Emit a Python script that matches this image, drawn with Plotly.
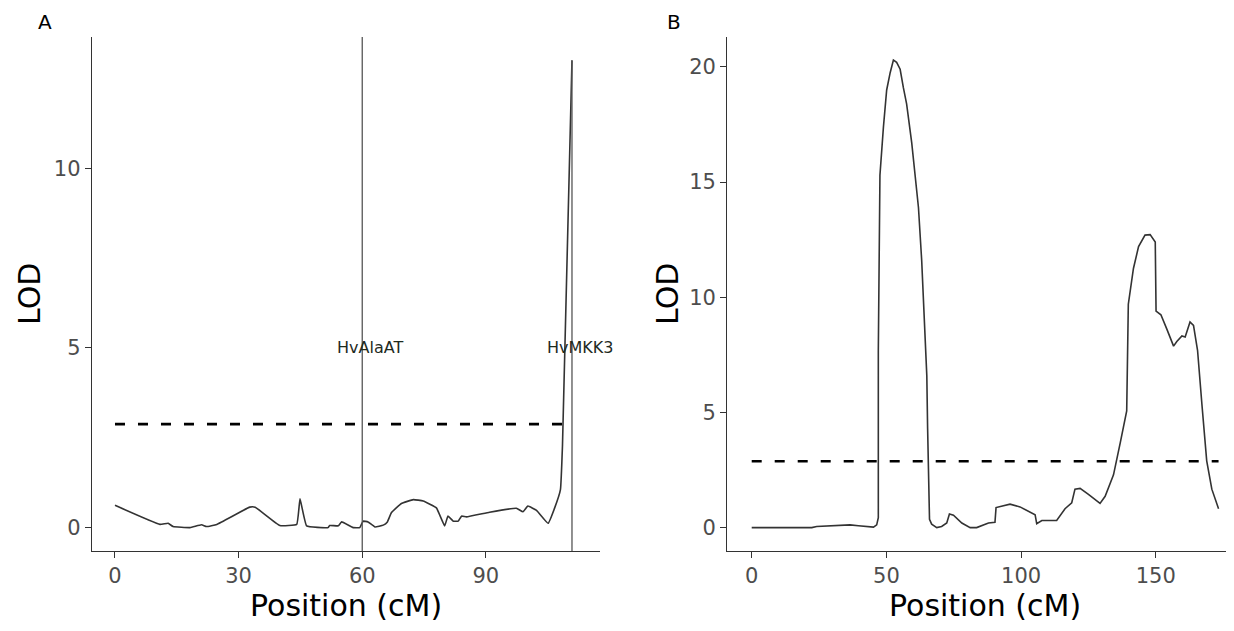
import plotly.graph_objects as go

# ---------------- Data ----------------
# Panel A: LOD profile
pos_a = [0, 10.9, 12.9, 14.1, 18.2, 21.0, 22.2, 24.7, 32.7, 34.0, 40.0, 44.1, 44.9, 46.5,
         51.7, 52.1, 54.2, 55.0, 57.8, 59.4, 60.2, 61.4, 63.1, 65.1, 66.1, 67.1, 69.5,
         72.4, 74.8, 78.0, 80.0, 80.8, 82.1, 83.3, 84.1, 85.3, 90.9, 97.4, 99.0, 100.2,
         102.3, 105.1, 106.7, 108.1, 108.6, 110.9]
lod_a = [0.62, 0.09, 0.12, 0.03, 0.0, 0.08, 0.03, 0.09, 0.57, 0.57, 0.06, 0.09, 0.80, 0.05,
         0.0, 0.06, 0.05, 0.16, 0.0, 0.0, 0.18, 0.16, 0.02, 0.07, 0.16, 0.42, 0.67,
         0.78, 0.74, 0.55, 0.05, 0.32, 0.18, 0.18, 0.32, 0.30, 0.43, 0.54, 0.44, 0.60,
         0.48, 0.12, 0.55, 1.06, 2.3, 13.0]
threshold_a = 2.88
genes_a = ["HvAlaAT", "HvMKK3"]
gene_pos_a = [60.0, 110.9]
gene_label_y = 5.0

# Panel B: LOD profile
pos_b = [0, 22.3, 24.1, 34.0, 36.5, 39.6, 45.2, 46.4, 47.0, 47.0, 47.6, 48.9, 50.1, 51.4,
         52.6, 53.8, 55.1, 56.3, 57.5, 59.4, 60.6, 61.9, 63.1, 63.7, 65.0, 65.3, 65.6,
         66.0, 66.8, 68.7, 70.5, 72.4, 73.4, 74.9,
         78.0, 81.1, 83.5, 87.9, 90.3, 90.7, 95.9, 99.6, 105.2, 105.8, 107.7, 113.2,
         116.3, 118.8, 120.0, 121.9, 125.0, 129.3, 131.2, 134.3, 136.8, 139.2, 139.8,
         141.7, 143.6, 146.0, 147.9, 149.8, 150.1, 151.9, 154.1, 156.6, 157.8, 159.7,
         160.9, 162.7, 164.0, 165.5, 167.1, 168.9, 170.8, 173.3]
lod_b = [0.0, 0.0, 0.05, 0.09, 0.12, 0.08, 0.02, 0.12, 0.43, 7.7, 15.3, 17.4, 19.0, 19.75,
         20.3, 20.2, 19.9, 19.1, 18.4, 16.7, 15.4, 13.9, 11.6, 9.86, 6.6, 4.3, 2.0,
         0.36, 0.15, 0.0, 0.05, 0.2, 0.59, 0.54,
         0.2, 0.0, 0.0, 0.2, 0.23, 0.87, 1.02, 0.9, 0.56, 0.17, 0.31, 0.31,
         0.82, 1.08, 1.67, 1.7, 1.44, 1.05, 1.36, 2.29, 3.68, 5.07, 9.7,
         11.25, 12.2, 12.7, 12.72, 12.4, 9.4, 9.24, 8.62, 7.88, 8.08, 8.32,
         8.28, 8.93, 8.78, 7.7, 5.38, 2.9, 1.67, 0.82]
threshold_b = 2.88

ticks_a_x = [0, 30, 60, 90]
ticks_a_y = [0, 5, 10]
ticks_b_x = [0, 50, 100, 150]
ticks_b_y = [0, 5, 10, 15, 20]

x_title = "Position (cM)"
y_title = "LOD"
panel_labels = ["A", "B"]

# ---------------- Figure ----------------
FONT = "DejaVu Sans"
W, H = 1234, 631
OFF = 8  # page body margin offset


def px(x):
    return (x - OFF) / W


def py(y):
    return 1 - (y - OFF) / H


fig = go.Figure()

fig.add_trace(go.Scatter(x=pos_a, y=lod_a, mode="lines", xaxis="x", yaxis="y",
                         line=dict(color="#333333", width=1.6, shape="spline", smoothing=0.3),
                         showlegend=False))
fig.add_trace(go.Scatter(x=[0, max(pos_a)], y=[threshold_a, threshold_a], mode="lines",
                         xaxis="x", yaxis="y",
                         line=dict(color="black", width=2.6, dash="10px,13px"), showlegend=False))
fig.add_trace(go.Scatter(x=pos_b, y=lod_b, mode="lines", xaxis="x2", yaxis="y2",
                         line=dict(color="#333333", width=1.6), showlegend=False))
fig.add_trace(go.Scatter(x=[0, max(pos_b)], y=[threshold_b, threshold_b], mode="lines",
                         xaxis="x2", yaxis="y2",
                         line=dict(color="black", width=2.6, dash="10px,13px"), showlegend=False))

# gene marker lines
fig.add_shape(type="line", xref="x", yref="y domain", x0=gene_pos_a[0], x1=gene_pos_a[0],
              y0=0, y1=1, line=dict(color="#555555", width=1.3))
fig.add_shape(type="line", xref="x", yref="y", x0=gene_pos_a[1], x1=gene_pos_a[1],
              y0=-0.65, y1=max(lod_a), line=dict(color="#555555", width=1.3))

for g, p in zip(genes_a, gene_pos_a):
    fig.add_annotation(x=p, y=gene_label_y, xref="x", yref="y", text=g, showarrow=False,
                       xshift=8, xanchor="center", yanchor="middle",
                       font=dict(family=FONT, size=16, color="#1e2a1e"))

# panel letters
for lab, (lx, ly) in zip(panel_labels, [(45, 22), (674, 22)]):
    fig.add_annotation(x=px(lx), y=py(ly), xref="paper", yref="paper", text=lab,
                       xanchor="center", yanchor="middle",
                       showarrow=False, font=dict(family=FONT, size=20, color="black"))

# axis titles
title_font = dict(family=FONT, size=30, color="black")
for cx in (346, 985):
    fig.add_annotation(x=px(cx), y=py(605), xref="paper", yref="paper", text=x_title,
                       xanchor="center", yanchor="middle",
                       showarrow=False, font=title_font)
for cx in (29, 667):
    fig.add_annotation(x=px(cx), y=py(294), xref="paper", yref="paper", text=y_title,
                       xanchor="center", yanchor="middle",
                       textangle=-90, showarrow=False, font=title_font)

axis_common = dict(showgrid=False, zeroline=False, showline=True, linecolor="#333333",
                   linewidth=1.4, ticks="outside", ticklen=6, tickwidth=1.4,
                   tickcolor="#333333", automargin=False,
                   tickfont=dict(family=FONT, size=21, color="#4d4d4d"))

ydom = [py(551), py(37)]

fig.update_layout(
    width=W, height=H, margin=dict(l=0, r=0, t=0, b=0),
    plot_bgcolor="white", paper_bgcolor="white",
    xaxis=dict(domain=[px(92), px(600)], range=[-5.58, 117.7], tickvals=ticks_a_x,
               anchor="y", **axis_common),
    yaxis=dict(domain=ydom, range=[-0.65, 13.65], tickvals=ticks_a_y,
               anchor="x", **axis_common),
    xaxis2=dict(domain=[px(727.3), 1.0], range=[-9.06, 182.0], tickvals=ticks_b_x,
                anchor="y2", **axis_common),
    yaxis2=dict(domain=ydom, range=[-1.015, 21.3], tickvals=ticks_b_y,
                anchor="x2", **axis_common),
)

fig.write_html("out.html")
